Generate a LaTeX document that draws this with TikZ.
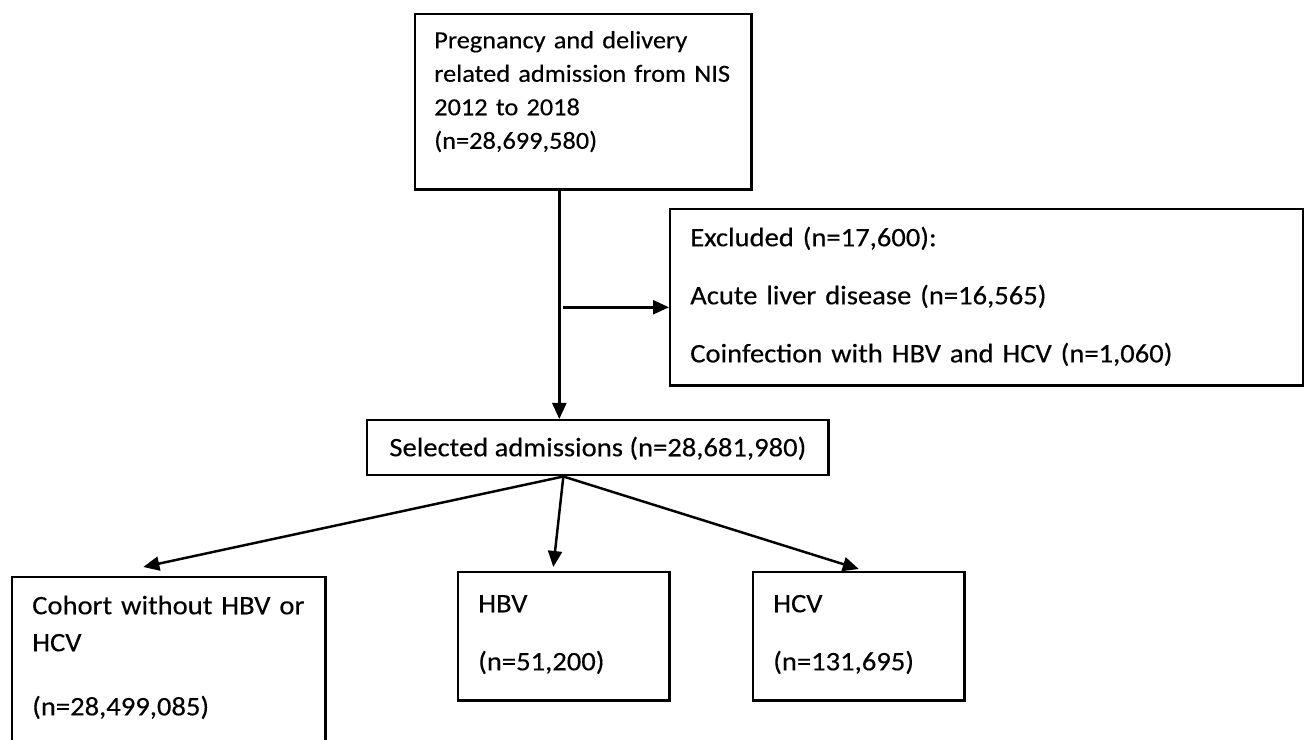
\documentclass[tikz,border=0pt]{standalone}
\usepackage{fontspec}
\setmainfont{Carlito}[FakeStretch=1.07,FakeBold=0.3]
\usetikzlibrary{arrows.meta,positioning,calc}

\begin{document}
\begin{tikzpicture}[
    x=0.01cm, y=-0.01cm,
    box/.style={draw, line width=0.7pt, anchor=north west, inner ysep=0pt, inner xsep=0.2cm, align=left, font=\fontsize{7.6}{10.53}\selectfont},
    link/.style={-{Triangle[length=0.16cm,width=0.14cm]}, line width=0.7pt}
]
\useasboundingbox (0,0) rectangle (1304,740);

\node[box, inner xsep=0.19cm, text width=2.98cm, text height=0.34cm, text depth=1.41cm, font=\fontsize{7}{9.53}\selectfont] (preg) at (414,13) {Pregnancy and delivery\\related admission from NIS\\2012 to 2018\\(n=28,699,580)};
\node[box, text width=5.93cm, text height=0.37cm, text depth=1.39cm] (excl) at (669,208) {Excluded (n=17,600):\\[0.21cm]Acute liver disease (n=16,565)\\[0.21cm]Coinfection with HBV and HCV (n=1,060)};
\node[box, align=center, inner xsep=0pt, minimum width=4.61cm, text height=0.36cm, text depth=0.19cm] (sel) at (366,419) {Selected admissions (n=28,681,980)};

\node[box, text width=2.73cm, text height=0.37cm, text depth=1.7cm] (cohort) at (11,576) {Cohort without HBV or\\HCV\\[0.27cm](n=28,499,085)};
\node[box, text width=1.71cm, text height=0.40cm, text depth=0.88cm] (hbv) at (457,571) {HBV\\[0.21cm](n=51,200)};
\node[box, text width=1.71cm, text height=0.40cm, text depth=0.88cm] (hcv) at (752,571) {HCV\\[0.21cm](n=131,695)};

% Main flow
\coordinate (spine) at ([xshift=-0.24cm]preg.south);
\coordinate (exin) at ([yshift=-0.1cm]excl.west);
\coordinate (branch) at ($(spine |- exin)+(4,0)$);
\draw[link] (spine) -- (spine |- sel.north);
\draw[link] (branch) -- (exin);

% Split into groups
\coordinate (fork) at ([xshift=-0.345cm]sel.south);
\draw[link] (fork) -- ([xshift=-0.255cm,yshift=0.09cm]cohort.north);
\draw[link] (fork) -- ([xshift=-0.105cm,yshift=0.04cm]hbv.north);
\draw[link] (fork) -- ([yshift=0.02cm]hcv.north);

\end{tikzpicture}
\end{document}
